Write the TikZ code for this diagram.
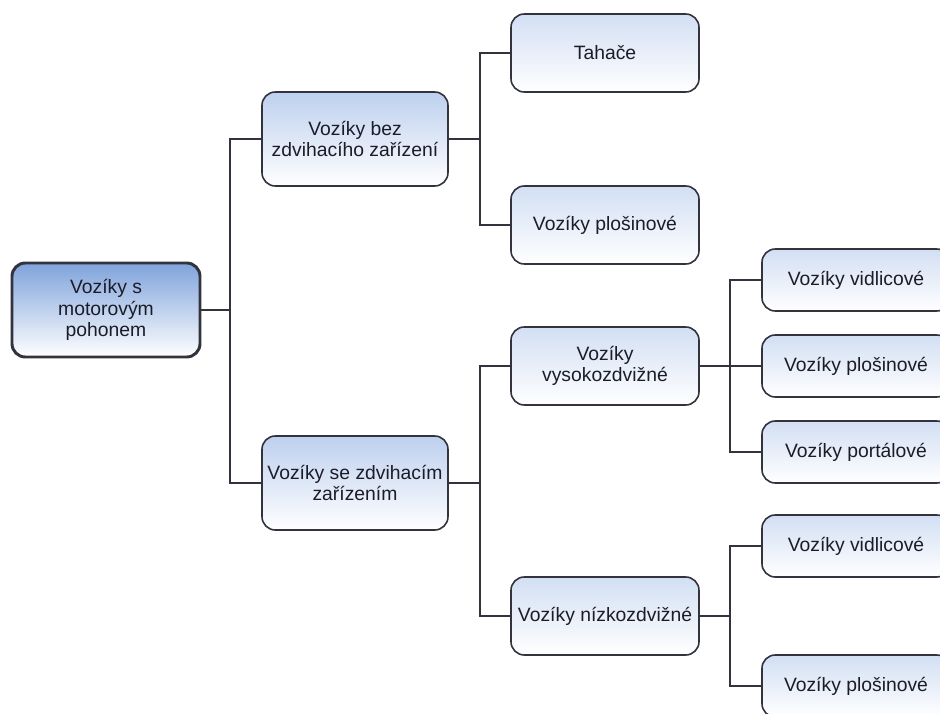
\documentclass[tikz,border=0pt]{standalone}
\usepackage{fontspec}
\setmainfont{Liberation Sans}
\usetikzlibrary{positioning}

\definecolor{inkdark}{HTML}{1C1C28}
\definecolor{rootblue}{HTML}{7FA3DC}
\definecolor{liftblue}{HTML}{BDD0EE}
\definecolor{paleblue}{HTML}{D2DFF3}

\begin{document}
\begin{tikzpicture}[
  x=0.75pt, y=-0.75pt,
  font=\fontsize{14.5pt}{16.3pt}\selectfont,
  box/.style={rectangle, rounded corners=10, draw=inkdark!90, line width=1.2pt,
              text=inkdark, align=center, inner sep=2pt,
              top color=paleblue, bottom color=white,
              minimum width=141pt, minimum height=58.5pt},
  rootbox/.style={box, line width=2.2pt, top color=rootblue,
                  minimum height=70.5pt},
  liftbox/.style={box, top color=liftblue, minimum width=139.5pt,
                  minimum height=70.5pt},
  leafbox/.style={box, minimum height=46.5pt},
  link/.style={draw=inkdark!90, line width=1.2pt},
]
\useasboundingbox (0,0) rectangle (940,714);
\clip (0,0) rectangle (940,714);

% Root and the two main groups
\node[rootbox] (root) at (106,310) {Vozíky s\\motorovým\\pohonem};
\node[liftbox] (nolift) at (355,139) {Vozíky bez\\zdvihacího zařízení};
\node[liftbox] (lift)   at (355,483) {Vozíky se zdvihacím\\zařízením};

% Second level
\node[box] (tow)  at (605,53)  {Tahače};
\node[box] (plat) at (605,225) {Vozíky plošinové};
\node[box] (high) at (605,366) {Vozíky\\vysokozdvižné};
\node[box] (low)  at (605,616) {Vozíky nízkozdvižné};

% Third level (cut off at the right edge)
\node[leafbox] (highfork)  at (856,280) {Vozíky vidlicové};
\node[leafbox] (highplat)  at (856,366) {Vozíky plošinové};
\node[leafbox] (highgantry) at (856,452) {Vozíky portálové};
\node[leafbox] (lowfork)   at (856,546) {Vozíky vidlicové};
\node[leafbox] (lowplat)   at (856,686) {Vozíky plošinové};

% Junction points of the tree lines
\coordinate (jroot) at (230,310);
\coordinate (jnolift) at (480,139);
\coordinate (jlift) at (480,483);
\coordinate (jhigh) at (730,366);
\coordinate (jlow) at (730,616);

% --- Tree connectors ---
\draw[link] (root.east) -- (jroot) |- (nolift.west);
\draw[link] (jroot) |- (lift.west);

\draw[link] (nolift.east) -- (jnolift) |- (tow.west);
\draw[link] (jnolift) |- (plat.west);

\draw[link] (lift.east) -- (jlift) |- (high.west);
\draw[link] (jlift) |- (low.west);

\draw[link] (high.east) -- (highplat.west);
\draw[link] (jhigh) |- (highfork.west);
\draw[link] (jhigh) |- (highgantry.west);

\draw[link] (low.east) -- (jlow) |- (lowfork.west);
\draw[link] (jlow) |- (lowplat.west);

\end{tikzpicture}
\end{document}
